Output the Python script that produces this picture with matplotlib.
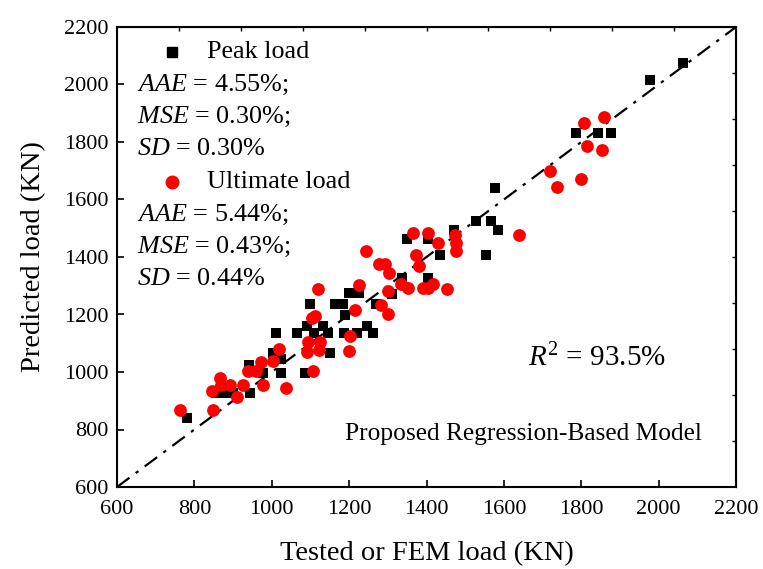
import matplotlib
matplotlib.use("Agg")
import matplotlib.pyplot as plt
import numpy as np

plt.rcParams['font.family'] = ['Liberation Serif', 'DejaVu Serif']
plt.rcParams['mathtext.fontset'] = 'custom'
plt.rcParams['mathtext.rm'] = 'Liberation Serif'
plt.rcParams['mathtext.it'] = 'Liberation Serif:italic'

# Peak load (tested/FEM vs predicted)
peak_tested = [780, 857, 874, 900, 944, 940, 978, 1025, 1004, 1025, 1010, 1064,
               1108, 1146, 1187, 1221, 1262, 1090, 1133, 1245, 1189, 1099, 1163,
               1183, 1269, 1200, 1225, 1312, 1337, 1405, 1349, 1405, 1471, 1435,
               1527, 1566, 1584, 1554, 1577, 1786, 1844, 1877, 1978, 2062, 1086,
               1151]
peak_pred = [839, 926, 926, 926, 926, 1024, 997, 995, 1065, 1045, 1134, 1134,
             1134, 1134, 1134, 1134, 1134, 1160, 1160, 1160, 1198, 1236, 1237,
             1237, 1237, 1274, 1274, 1272, 1326, 1326, 1462, 1462, 1495, 1407,
             1526, 1526, 1495, 1407, 1639, 1830, 1830, 1830, 2016, 2076, 995,
             1065]

# Ultimate load
ult_tested = [763, 849, 845, 866, 870, 892, 909, 926, 939, 959, 971, 978, 1002,
              1020, 1036, 1090, 1094, 1106, 1103, 1112, 1120, 1125, 1122, 1201,
              1200, 1214, 1226, 1244, 1278, 1293, 1283, 1300, 1301, 1304, 1333,
              1352, 1364, 1373, 1381, 1392, 1405, 1403, 1418, 1430, 1454, 1474,
              1475, 1476, 1639, 1720, 1737, 1799, 1807, 1816, 1853, 1859]
ult_pred = [868, 868, 935, 978, 955, 955, 914, 955, 1003, 1003, 1036, 955, 1038,
            1079, 944, 1068, 1105, 1005, 1187, 1195, 1288, 1105, 1075, 1125,
            1074, 1217, 1303, 1422, 1376, 1376, 1233, 1200, 1282, 1346, 1306,
            1291, 1485, 1407, 1369, 1291, 1291, 1485, 1306, 1448, 1289, 1476,
            1448, 1422, 1475, 1698, 1644, 1671, 1865, 1786, 1772, 1886]

ref_line = [600, 2200]
major_ticks = list(range(600, 2201, 200))
minor_opp_ticks = list(range(760, 2200, 160))

peak_stats = ["$AAE$ = 4.55%;", "$MSE$ = 0.30%;", "$SD$ = 0.30%"]
ult_stats = ["$AAE$ = 5.44%;", "$MSE$ = 0.43%;", "$SD$ = 0.44%"]

fig = plt.figure(figsize=(7.63, 5.69), dpi=100)
ax = fig.add_axes([117/763, 1 - 487/569, 619/763, 460/569])

ax.plot(ref_line, ref_line, color='black', lw=1.6, linestyle=(0, (7, 3.5, 1.5, 3.5)), zorder=1)
ax.scatter(peak_tested, peak_pred, marker='s', s=58, color='black', linewidths=0, zorder=2)
ax.scatter(ult_tested, ult_pred, marker='o', s=85, color='red', linewidths=0, zorder=3)

ax.set_xlim(600, 2200)
ax.set_ylim(600, 2200)
ax.set_xticks(major_ticks)
ax.set_yticks(major_ticks)
ax.tick_params(axis='both', direction='in', length=5, width=1.2, labelsize=16)
ax.tick_params(axis='x', pad=9)
ax.tick_params(axis='y', pad=6)
for sp in ax.spines.values():
    sp.set_linewidth(1.5)

# opposite axes ticks
axt = ax.secondary_xaxis('top')
axt.set_xticks(minor_opp_ticks)
axt.tick_params(direction='in', length=3, width=1, labeltop=False)
axr = ax.secondary_yaxis('right')
axr.set_yticks(minor_opp_ticks)
axr.tick_params(direction='in', length=3, width=1, labelright=False)

ax.set_xlabel('Tested or FEM load (KN)', fontsize=20.5, labelpad=16)
ax.set_ylabel('Predicted load (KN)', fontsize=20.5, labelpad=13)

# legend-like block
fs = 18.8
ax.plot([0.0889], [0.9457], marker='s', ms=7.5, color='black', transform=ax.transAxes, clip_on=False)
ax.text(0.1454, 0.9457, 'Peak load', transform=ax.transAxes, fontsize=fs, va='center', ha='left')
ys1 = [0.874, 0.804, 0.735]
for t, y in zip(peak_stats, ys1):
    ax.text(0.0323, y, t, transform=ax.transAxes, fontsize=fs, va='center', ha='left')
ax.plot([0.0889], [0.663], marker='o', ms=9, color='red', transform=ax.transAxes, clip_on=False)
ax.text(0.1454, 0.663, 'Ultimate load', transform=ax.transAxes, fontsize=fs, va='center', ha='left')
ys2 = [0.591, 0.522, 0.452]
for t, y in zip(ult_stats, ys2):
    ax.text(0.0323, y, t, transform=ax.transAxes, fontsize=fs, va='center', ha='left')

ax.text(1662, 1049, '$R^2$ = 93.5%', fontsize=21, va='center', ha='left')
ax.text(1189, 784, 'Proposed Regression-Based Model', fontsize=18.3, va='center', ha='left')

fig.savefig('out.png', dpi=100)
